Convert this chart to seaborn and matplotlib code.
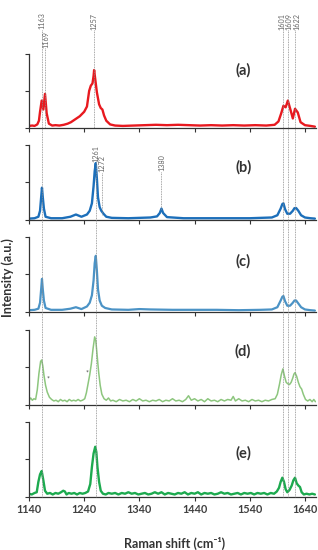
import numpy as np
import pandas as pd
import matplotlib
matplotlib.use("Agg")
import matplotlib.pyplot as plt
import seaborn as sns

# ========== Spectra (wavenumber, relative intensity) ==========
wn_a = [1140, 1146, 1150, 1155, 1158, 1160, 1163, 1166, 1169, 1172, 1176, 1182, 1188, 1195, 1203,
        1210, 1216, 1222, 1228, 1232, 1236, 1240, 1245, 1249, 1252, 1255, 1257, 1258, 1260, 1263,
        1267, 1270, 1273, 1276, 1280, 1287, 1296, 1310, 1330, 1350, 1370, 1390, 1410, 1430, 1450,
        1470, 1490, 1510, 1530, 1550, 1570, 1585, 1592, 1597, 1601, 1605, 1609, 1614, 1618, 1622,
        1627, 1632, 1640, 1650, 1658]
int_a = [0.03, 0.035, 0.03, 0.05, 0.10, 0.22, 0.37, 0.25, 0.46, 0.20, 0.06, 0.035, 0.04, 0.035, 0.045,
         0.06, 0.08, 0.11, 0.14, 0.16, 0.19, 0.22, 0.29, 0.50, 0.57, 0.60, 0.70, 0.78, 0.66, 0.48,
         0.32, 0.27, 0.25, 0.17, 0.10, 0.05, 0.035, 0.03, 0.035, 0.04, 0.045, 0.04, 0.045, 0.04, 0.035,
         0.04, 0.035, 0.04, 0.035, 0.04, 0.035, 0.045, 0.09, 0.20, 0.30, 0.28, 0.37, 0.24, 0.13, 0.26,
         0.21, 0.08, 0.04, 0.03, 0.02]

wn_b = [1140, 1150, 1157, 1160, 1162, 1163.5, 1165, 1167, 1170, 1180, 1200, 1215, 1225, 1235, 1245,
        1250, 1254, 1257, 1259, 1261, 1263, 1265, 1268, 1271, 1275, 1280, 1290, 1320, 1360, 1372,
        1377, 1380, 1383, 1390, 1420, 1480, 1540, 1580, 1590, 1596, 1599, 1601, 1604, 1608, 1613,
        1618, 1621, 1624, 1628, 1633, 1640, 1650, 1658]
int_b = [0.015, 0.02, 0.04, 0.12, 0.30, 0.43, 0.30, 0.15, 0.04, 0.02, 0.02, 0.04, 0.07, 0.04, 0.07,
         0.12, 0.22, 0.45, 0.65, 0.76, 0.55, 0.30, 0.17, 0.12, 0.08, 0.04, 0.025, 0.02, 0.03, 0.045,
         0.09, 0.15, 0.09, 0.035, 0.02, 0.02, 0.02, 0.03, 0.06, 0.15, 0.21, 0.22, 0.14, 0.08, 0.08,
         0.12, 0.155, 0.157, 0.12, 0.06, 0.03, 0.02, 0.015]

wn_c = [1140, 1150, 1157, 1160, 1162, 1163.5, 1165, 1167, 1170, 1180, 1200, 1215, 1225, 1235, 1245,
        1250, 1254, 1257, 1259, 1261, 1263, 1265, 1268, 1272, 1278, 1290, 1320, 1340, 1360, 1400,
        1440, 1480, 1520, 1560, 1580, 1590, 1596, 1599, 1601, 1604, 1608, 1613, 1618, 1621, 1624,
        1628, 1633, 1640, 1650, 1658]
int_c = [0.02, 0.025, 0.04, 0.12, 0.30, 0.44, 0.30, 0.15, 0.05, 0.025, 0.025, 0.04, 0.06, 0.035, 0.07,
         0.12, 0.22, 0.42, 0.65, 0.75, 0.55, 0.30, 0.15, 0.08, 0.05, 0.03, 0.025, 0.035, 0.03, 0.025,
         0.025, 0.025, 0.02, 0.025, 0.03, 0.06, 0.15, 0.20, 0.21, 0.14, 0.08, 0.08, 0.12, 0.15, 0.15,
         0.11, 0.06, 0.03, 0.02, 0.015]

wn_d = [1140, 1143, 1146, 1149, 1152, 1155, 1158, 1161, 1163, 1165, 1167, 1170, 1173, 1177, 1181,
        1185, 1189, 1193, 1197, 1201, 1205, 1209, 1213, 1217, 1221, 1225, 1229, 1233, 1237, 1241,
        1244, 1247, 1250, 1253, 1256, 1259, 1261, 1263, 1266, 1269, 1272, 1276, 1280, 1284, 1288,
        1292, 1298, 1304, 1310, 1316, 1322, 1328, 1334, 1340, 1346, 1352, 1358, 1364, 1370, 1376,
        1382, 1388, 1394, 1400, 1406, 1412, 1418, 1424, 1429, 1434, 1440, 1446, 1452, 1458, 1464,
        1470, 1476, 1482, 1488, 1494, 1500, 1506, 1510, 1514, 1520, 1526, 1532, 1538, 1544, 1550,
        1556, 1562, 1568, 1574, 1580, 1586, 1590, 1594, 1597, 1600, 1603, 1606, 1609, 1612, 1615,
        1618, 1620, 1622, 1625, 1628, 1631, 1634, 1637, 1641, 1645, 1649, 1653, 1656, 1659]
int_d = [0.06, 0.09, 0.06, 0.08, 0.07, 0.20, 0.42, 0.58, 0.60, 0.52, 0.40, 0.26, 0.17, 0.10, 0.07,
         0.05, 0.06, 0.04, 0.07, 0.05, 0.06, 0.04, 0.07, 0.05, 0.06, 0.05, 0.07, 0.05, 0.06, 0.08,
         0.16, 0.28, 0.40, 0.55, 0.75, 0.91, 0.86, 0.70, 0.45, 0.26, 0.14, 0.08, 0.06, 0.09, 0.05,
         0.06, 0.04, 0.07, 0.05, 0.06, 0.04, 0.07, 0.05, 0.08, 0.05, 0.06, 0.04, 0.06, 0.05, 0.07,
         0.04, 0.06, 0.05, 0.08, 0.05, 0.06, 0.04, 0.07, 0.12, 0.06, 0.08, 0.05, 0.07, 0.04, 0.08,
         0.05, 0.06, 0.04, 0.07, 0.05, 0.07, 0.06, 0.11, 0.05, 0.08, 0.05, 0.06, 0.04, 0.07, 0.05,
         0.06, 0.04, 0.06, 0.05, 0.07, 0.08, 0.14, 0.28, 0.40, 0.48, 0.38, 0.30, 0.28, 0.27, 0.30,
         0.36, 0.41, 0.43, 0.38, 0.30, 0.24, 0.21, 0.14, 0.07, 0.05, 0.07, 0.04, 0.07, 0.04]

wn_e = [1140, 1145, 1150, 1154, 1157, 1160, 1163, 1166, 1169, 1173, 1178, 1183, 1188, 1193, 1198,
        1202, 1205, 1208, 1212, 1217, 1222, 1227, 1232, 1237, 1242, 1247, 1251, 1254, 1257, 1260,
        1262, 1264, 1267, 1270, 1274, 1279, 1284, 1290, 1296, 1302, 1308, 1314, 1320, 1326, 1332,
        1338, 1344, 1350, 1356, 1362, 1368, 1374, 1380, 1386, 1392, 1398, 1404, 1410, 1416, 1422,
        1428, 1434, 1440, 1446, 1452, 1458, 1464, 1470, 1476, 1482, 1488, 1494, 1500, 1506, 1512,
        1518, 1524, 1530, 1536, 1542, 1548, 1554, 1560, 1566, 1572, 1578, 1584, 1589, 1593, 1596,
        1599, 1602, 1605, 1608, 1612, 1616, 1619, 1622, 1625, 1628, 1631, 1634, 1638, 1643, 1648,
        1653, 1658]
int_e = [0.04, 0.03, 0.05, 0.06, 0.20, 0.30, 0.345, 0.22, 0.08, 0.04, 0.05, 0.03, 0.05, 0.04, 0.06,
         0.08, 0.07, 0.03, 0.05, 0.04, 0.05, 0.03, 0.05, 0.04, 0.05, 0.07, 0.17, 0.40, 0.58, 0.67,
         0.60, 0.40, 0.20, 0.08, 0.04, 0.03, 0.05, 0.04, 0.05, 0.03, 0.05, 0.04, 0.06, 0.04, 0.05,
         0.03, 0.04, 0.05, 0.03, 0.04, 0.06, 0.04, 0.06, 0.03, 0.05, 0.04, 0.03, 0.05, 0.04, 0.06,
         0.03, 0.05, 0.04, 0.06, 0.03, 0.05, 0.04, 0.05, 0.03, 0.04, 0.06, 0.04, 0.05, 0.03, 0.04,
         0.05, 0.03, 0.05, 0.04, 0.05, 0.03, 0.05, 0.04, 0.05, 0.03, 0.05, 0.04, 0.07, 0.12, 0.20,
         0.255, 0.20, 0.10, 0.06, 0.09, 0.15, 0.22, 0.255, 0.18, 0.15, 0.13, 0.06, 0.03, 0.04, 0.03,
         0.04, 0.03]

panel_tags = ["(a)", "(b)", "(c)", "(d)", "(e)"]
tag_y = [0.77, 0.70, 0.67, 0.71, 0.58]
colors = ["#e8191f", "#1c6fba", "#4b93c6", "#8dc67e", "#1daa4f"]
widths = [1.7, 1.7, 1.6, 1.1, 1.7]
x_ticks = [1140, 1240, 1340, 1440, 1540, 1640]

# peak markers: position, label x, label centre (px from top), dotted line start/end (px from top)
peak_pos = [1163, 1169, 1257, 1261, 1272, 1380, 1601, 1609, 1622]
peak_lab_x = [1164, 1171, 1258, 1262, 1273, 1381, 1599, 1611, 1625]
peak_lab_y = [21, 39, 21, 153, 163, 163, 21, 21, 21]
peak_top = [30, 48, 30, 161, 173, 172, 30, 30, 30]
peak_bot = [497, 128, 128, 497, 215, 210, 497, 497, 497]

asterisk_x = [1174, 1245]
asterisk_y = [0.35, 0.42]

spectra = [(wn_a, int_a), (wn_b, int_b), (wn_c, int_c), (wn_d, int_d), (wn_e, int_e)]

# ========== Figure ==========
sns.set_style("ticks")
plt.rcParams['font.family'] = ['Lato', 'DejaVu Sans']

fig = plt.figure(figsize=(3.18, 5.5), dpi=100)
L, W, H = 0.0912, 0.9025, 0.1355
bottoms = [0.767, 0.6005, 0.4333, 0.2642, 0.0969]
XLIM = (1140, 1660)

for i, (wn, it) in enumerate(spectra):
    ax = fig.add_axes([L, bottoms[i], W, H])
    ax.patch.set_alpha(0)
    df = pd.DataFrame({"wn": wn, "I": it})
    sns.lineplot(data=df, x="wn", y="I", ax=ax, color=colors[i], lw=widths[i],
                 estimator=None, sort=False)
    ax.set_xlim(*XLIM)
    ax.set_ylim(0, 1)
    ax.set_yticks([0, 0.5, 1])
    ax.set_yticklabels([])
    ax.set_xticks(x_ticks)
    ax.set_xlabel("")
    ax.set_ylabel("")
    for s in ["top", "right"]:
        ax.spines[s].set_visible(False)
    for s in ["left", "bottom"]:
        ax.spines[s].set_color("#333333")
        ax.spines[s].set_linewidth(0.9)
    ax.tick_params(direction="out", length=3, width=0.8, color="#333333", pad=2)
    if i < 4:
        ax.set_xticklabels([])
    else:
        ax.set_xticklabels([str(t) for t in x_ticks], fontsize=7.8, fontweight="bold",
                           color="#404040")
    ax.text(1528, tag_y[i], panel_tags[i], ha="center", va="center", fontsize=10.5,
            fontweight="bold", color="#333333")
    if i == 3:
        for ax_x, ax_y in zip(asterisk_x, asterisk_y):
            ax.text(ax_x, ax_y, "*", ha="center", va="center", fontsize=5, color="#444444")

# overlay for the dotted peak guides
ov = fig.add_axes([L, 0, W, 1], zorder=10)
ov.set_xlim(*XLIM)
ov.set_ylim(550, 0)
ov.axis("off")
ov.patch.set_alpha(0)
for p, lx, ly, t, b in zip(peak_pos, peak_lab_x, peak_lab_y, peak_top, peak_bot):
    ov.vlines(p, t, b, colors="#8a8a8a", linestyles=(0, (1, 1)), lw=0.6)
    ov.text(lx, ly, str(p), rotation=90, ha="center", va="center", fontsize=5.2,
            color="#666666")

fig.text(0.55, 0.0127, "Raman shift (cm⁻¹)", ha="center", va="center", fontsize=9,
         fontweight="bold", color="#333333")
fig.text(0.025, 0.4945, "Intensity (a.u.)", rotation=90, ha="center", va="center",
         fontsize=9, fontweight="bold", color="#333333")

fig.savefig("out.png", dpi=100)
